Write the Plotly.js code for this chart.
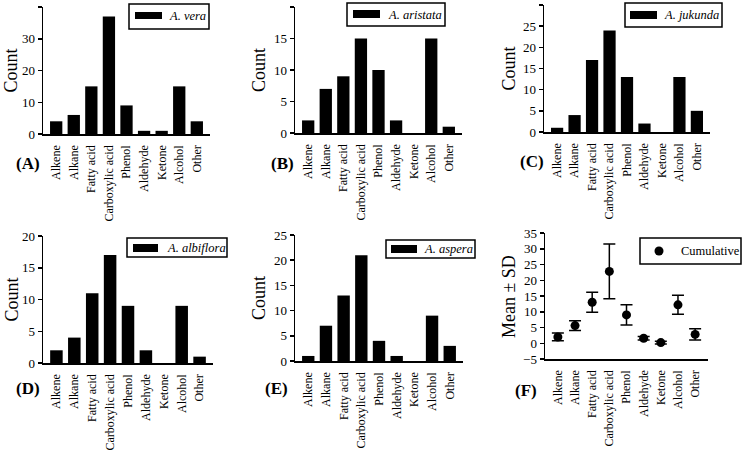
<!DOCTYPE html>
<html>
<head>
<meta charset="utf-8">
<script src="https://cdn.plot.ly/plotly-3.0.1.min.js"></script>
<style>html,body{margin:0;padding:0;background:#fff}#chart{width:744px;height:450px}</style>
</head>
<body>
<div id="chart"></div>
<script>
const categories = ['Alkene','Alkane','Fatty acid','Carboxylic acid','Phenol','Aldehyde','Ketone','Alcohol','Other'];
const vera      = [4, 6, 15, 37, 9, 1, 1, 15, 4];
const aristata  = [2, 7, 9, 15, 10, 2, 0, 15, 1];
const jukunda   = [1, 4, 17, 24, 13, 2, 0, 13, 5];
const albiflora = [2, 4, 11, 17, 9, 2, 0, 9, 1];
const aspera    = [1, 7, 13, 21, 4, 1, 0, 9, 3];
const cumMean   = [2, 5.6, 13, 22.8, 9, 1.6, 0.2, 12.2, 2.8];
const cumSD     = [1.22, 1.52, 3.16, 8.67, 3.24, 0.55, 0.45, 3.03, 1.79];
const seriesNames = ['A. vera','A. aristata','A. jukunda','A. albiflora','A. aspera'];
const panelLabels = ['(A)','(B)','(C)','(D)','(E)','(F)'];
const yTitles = ['Count','Count','Count','Count','Count','Mean ± SD'];

const W = 744, H = 450;
const px = v => v / W;
const py = v => 1 - v / H;
const FONT = 'Liberation Serif, Times New Roman, serif';

// layout geometry (pixels): [xLeft, xRight, yTop, yBottom]
const boxes = [
  [43, 210, 7, 134],
  [295, 462, 7, 133],
  [544, 710, 5, 132],
  [43, 213, 236, 363],
  [295, 463, 235, 361],
  [545, 708, 233, 359]
];
const yRanges = [[0,40],[0,20],[0,30],[0,20],[0,25],[-5,35]];
const yDticks = [10,5,5,5,5,5];
const legendBoxes = [
  {box:[129,209,4,29], sw:[135,162,12,19], tx:167},
  {box:[347,445,3,26], sw:[353,380,10,18], tx:386},
  {box:[625,722,3,27], sw:[630,657,11,19], tx:662},
  {box:[127,227,238,257], sw:[133,158,244,252], tx:165},
  {box:[386,475,240,258], sw:[391,417,245,253], tx:422},
  {box:[640,741,238,264], dot:[659,251], tx:679}
];
const labelPos = [[28,163],[282,163],[532,161],[28,388],[276,388],[526,390]];
const titleX = [11, 259, 508, 11, 259, 509];

const seriesData = [vera, aristata, jukunda, albiflora, aspera];
const traces = [];
seriesData.forEach((vals, i) => {
  const n = i === 0 ? '' : String(i + 1);
  traces.push({
    type: 'bar', x: categories, y: vals, name: seriesNames[i],
    xaxis: 'x' + n, yaxis: 'y' + n,
    marker: {color: '#000', line: {color: '#000', width: 0}},
    showlegend: false, hoverinfo: 'x+y'
  });
});
traces.push({
  type: 'scatter', mode: 'markers', x: categories, y: cumMean, name: 'Cumulative',
  xaxis: 'x6', yaxis: 'y6',
  marker: {color: '#000', size: 9},
  error_y: {type: 'data', array: cumSD, visible: true, color: '#000', thickness: 1.5, width: 6},
  showlegend: false
});

const layout = {
  width: W, height: H,
  margin: {l: 0, r: 0, t: 0, b: 0},
  paper_bgcolor: '#fff', plot_bgcolor: 'rgba(0,0,0,0)',
  font: {family: FONT, color: '#000', size: 12},
  bargap: 0.3,
  showlegend: false,
  shapes: [], annotations: []
};

boxes.forEach((b, i) => {
  const n = i === 0 ? '' : String(i + 1);
  layout['xaxis' + n] = {
    domain: [px(b[0]), px(b[1])], anchor: 'y' + n,
    type: 'category', range: [-0.75, 8.75],
    showline: true, linecolor: '#000', linewidth: 1.5,
    ticks: '', tickangle: -90, showgrid: false, zeroline: false,
    tickfont: {family: FONT, size: 12, color: '#000'}, ticklabelstandoff: 5,
    fixedrange: true
  };
  layout['yaxis' + n] = {
    domain: [py(b[3]), py(b[2])], anchor: 'x' + n,
    range: yRanges[i], dtick: yDticks[i], tick0: 0,
    showline: true, linecolor: '#000', linewidth: 1.5,
    ticks: 'outside', ticklen: 4, tickwidth: 1.5, tickcolor: '#000',
    showgrid: false, zeroline: false,
    tickfont: {family: FONT, size: 13, color: '#000'},
    fixedrange: true
  };
  // y-axis title
  layout.annotations.push({xref: 'paper', yref: 'paper', x: px(titleX[i]), y: (py(b[2]) + py(b[3])) / 2,
    xanchor: 'center', yanchor: 'middle', showarrow: false, textangle: -90,
    text: yTitles[i], font: {family: FONT, size: 18, color: '#000'}});
  // legend
  const L = legendBoxes[i];
  layout.shapes.push({type: 'rect', xref: 'paper', yref: 'paper',
    x0: px(L.box[0]), x1: px(L.box[1]), y0: py(L.box[3]), y1: py(L.box[2]),
    line: {color: '#000', width: 1.5}, fillcolor: 'rgba(0,0,0,0)'});
  if (L.sw) {
    layout.shapes.push({type: 'rect', xref: 'paper', yref: 'paper',
      x0: px(L.sw[0]), x1: px(L.sw[1]), y0: py(L.sw[3]), y1: py(L.sw[2]),
      line: {width: 0}, fillcolor: '#000'});
  } else {
    layout.shapes.push({type: 'circle', xref: 'paper', yref: 'paper',
      x0: px(L.dot[0] - 4.5), x1: px(L.dot[0] + 4.5), y0: py(L.dot[1] + 4.5), y1: py(L.dot[1] - 4.5),
      line: {width: 0}, fillcolor: '#000'});
  }
  const cy = (L.box[2] + L.box[3]) / 2;
  layout.annotations.push({xref: 'paper', yref: 'paper', x: px(L.tx), y: py(cy),
    xanchor: 'left', yanchor: 'middle', showarrow: false,
    text: i === 5 ? 'Cumulative' : '<i>' + seriesNames[i] + '</i>',
    font: {family: FONT, size: 12.5, color: '#000'}});
  // panel label
  layout.annotations.push({xref: 'paper', yref: 'paper', x: px(labelPos[i][0]), y: py(labelPos[i][1]),
    xanchor: 'center', yanchor: 'middle', showarrow: false,
    text: '<b>' + panelLabels[i] + '</b>',
    font: {family: FONT, size: 17, color: '#000'}});
});

Plotly.newPlot('chart', traces, layout, {displayModeBar: false, staticPlot: true});
</script>
</body>
</html>
